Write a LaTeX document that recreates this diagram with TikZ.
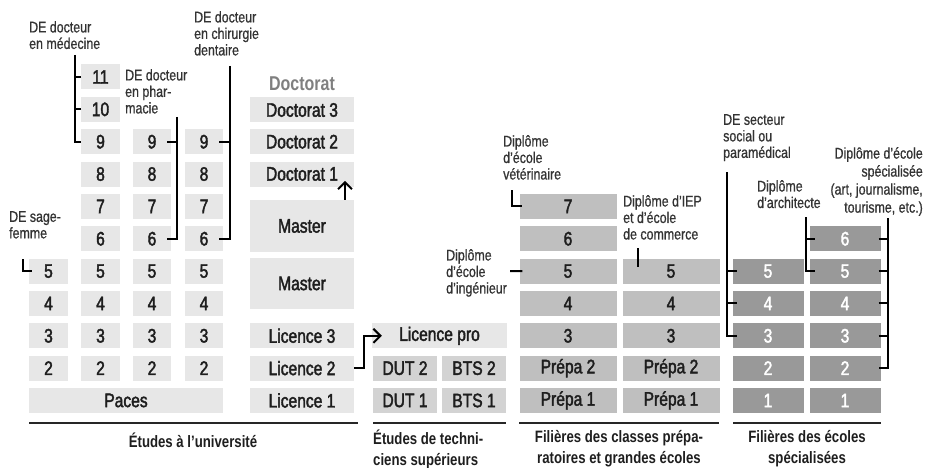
\documentclass[tikz,border=0pt]{standalone}
\usepackage{fontspec}
\setmainfont[FakeStretch=0.8]{Liberation Sans}
\newfontfamily\cellfont[FakeStretch=0.8,FakeBold=2]{Liberation Sans}
\newfontfamily\annfont[FakeStretch=0.8,FakeBold=0.8]{Liberation Sans}
\usetikzlibrary{arrows.meta,calc}
\definecolor{uni}{HTML}{E7E7E7}
\definecolor{tech}{HTML}{D3D3D3}
\definecolor{prepa}{HTML}{BFBFBF}
\definecolor{spec}{HTML}{999999}
\definecolor{boxtxt}{HTML}{1E1E1E}
\definecolor{anntxt}{HTML}{333333}
\definecolor{doctxt}{HTML}{7F7F7F}
\begin{document}
\begin{tikzpicture}[x=1pt,y=-1pt,
  cell/.style={inner sep=0pt, minimum height=25pt, text=boxtxt, font=\cellfont\fontsize{19.5}{21}\selectfont},
  ubox/.style={cell, fill=uni, minimum width=38.5pt},
  lbox/.style={cell, fill=uni, minimum width=104pt},
  tbox/.style={cell, fill=tech, minimum width=64pt},
  pbox/.style={cell, fill=prepa, minimum width=97pt},
  sbox/.style={cell, fill=spec, text=white, minimum width=71pt},
  ann/.style={inner sep=0pt, font=\annfont\fontsize{15.5}{16.5}\selectfont, text=anntxt, align=left},
  gtitle/.style={inner sep=0pt, font=\bfseries\fontsize{16.5}{21}\selectfont, text=boxtxt},
  brk/.style={line width=2pt, black},
  rule/.style={line width=2.6pt, black!85}]
\useasboundingbox (0,0) rectangle (926,468);
% --- university, numbered columns
\foreach \r in {2,...,5} \node[ubox] (a\r) at (48.5,{400.5-32.35*(\r-1)}) {\r};
\foreach \r in {2,...,11} \node[ubox] (b\r) at (100.5,{400.5-32.35*(\r-1)}) {\r};
\foreach \r in {2,...,9} \node[ubox] (c\r) at (152,{400.5-32.35*(\r-1)}) {\r};
\foreach \r in {2,...,9} \node[ubox] (d\r) at (204,{400.5-32.35*(\r-1)}) {\r};
\node[ubox, minimum width=194pt] (paces) at (126,400.5) {Paces};
% --- LMD column
\node[lbox] (L1) at (302,400.5) {Licence 1};
\node[lbox] (L2) at (302,368.15) {Licence 2};
\node[lbox] (L3) at (302,335.8) {Licence 3};
\node[lbox, minimum height=51pt] (M1) at (302,283.5) {Master};
\node[lbox, minimum height=52pt] (M2) at (302,226) {Master};
\node[lbox] (D1) at (302,174) {Doctorat 1};
\node[lbox] (D2) at (302,141.7) {Doctorat 2};
\node[lbox] (D3) at (302,110) {Doctorat 3};
\node[inner sep=0pt, font=\bfseries\fontsize{20}{22}\selectfont, text=doctxt] (Dh) at (302,84) {Doctorat};
% --- technicians
\node[cell, fill=uni, minimum width=135pt] (LP) at (439.5,335.8) {Licence pro};
\node[tbox] (DUT2) at (405,368.15) {DUT 2};
\node[tbox] (DUT1) at (405,400.5) {DUT 1};
\node[tbox] (BTS2) at (474,368.15) {BTS 2};
\node[tbox] (BTS1) at (474,400.5) {BTS 1};
% --- prepa
\node[pbox] (p1r1) at (568,400.5) {Prépa 1};
\node[pbox] (p1r2) at (568,368.15) {Prépa 2};
\node[pbox] (p2r1) at (671,400.5) {Prépa 1};
\node[pbox] (p2r2) at (671,368.15) {Prépa 2};
\foreach \r in {3,...,7} \node[pbox] (p1r\r) at (568,{400.5-32.35*(\r-1)}) {\r};
\foreach \r in {3,...,5} \node[pbox] (p2r\r) at (671,{400.5-32.35*(\r-1)}) {\r};
% --- specialised schools
\foreach \r in {1,...,5} \node[sbox] (s1r\r) at (768,{400.5-32.35*(\r-1)}) {\r};
\foreach \r in {1,...,6} \node[sbox] (s2r\r) at (845,{400.5-32.35*(\r-1)}) {\r};
% --- group rules and titles
\draw[rule] (29,423) -- (358,423);
\draw[rule] (373,423) -- (506,423);
\draw[rule] (519,423) -- (719,423);
\draw[rule] (733,423) -- (881,423);
\node[gtitle] (t1) at (193,440) {Études à l’université};
\node[gtitle, align=left, anchor=west] (t2) at (373,449) {Études de techni-\\ciens supérieurs};
\node[gtitle, align=center] (t3) at (619,449) {Filières des classes prépa-\\ratoires et grandes écoles};
\node[gtitle, align=center] (t4) at (807,449) {Filières des écoles\\spécialisées};
% --- annotations
\node[ann, anchor=north west] (med) at (29,21) {DE docteur\\en médecine};
\coordinate (medtop) at (75,55);
\draw[brk] (medtop) |- (b9.west);
\draw[brk] (b11.west) -- (b11.west -| medtop);
\draw[brk] (b10.west) -- (b10.west -| medtop);

\node[ann, anchor=north west] (pha) at (125,69) {DE docteur\\en phar-\\macie};
\coordinate (phatop) at (177,117);
\draw[brk] (phatop) |- ([xshift=-4pt]c6.east);
\draw[brk] ([xshift=-4pt]c9.east) -- (c9.east -| phatop);

\node[ann, anchor=north west] (chi) at (194,11) {DE docteur\\en chirurgie\\dentaire};
\coordinate (chitop) at (230,66);
\draw[brk] (chitop) |- ([xshift=-4pt]d6.east);
\draw[brk] ([xshift=-4pt]d9.east) -- (d9.east -| chitop);

\node[ann, anchor=north west] (sag) at (9,211) {DE sage-\\femme};
\coordinate (sagtop) at (23,259);
\draw[brk] (sagtop) |- ([xshift=3pt]a5.west);

\node[ann, anchor=north west] (vet) at (503,135) {Diplôme\\d’école\\vétérinaire};
\coordinate (vettop) at (512,190);
\draw[brk] (vettop) |- ([xshift=3pt]p1r7.west);

\node[ann, anchor=north west] (ing) at (446,249) {Diplôme\\d’école\\d’ingénieur};
\coordinate (ingend) at (510,271.1);
\draw[brk] (ingend) -- ([xshift=3pt]p1r5.west);

\node[ann, anchor=north west] (iep) at (623,195) {Diplôme d’IEP\\et d’école\\de commerce};
\coordinate (ieptop) at (638,248);
\draw[brk] (ieptop) -- ($(ieptop |- p2r5.north)+(0,9)$);

\node[ann, anchor=north west] (soc) at (723,114) {DE secteur\\social ou\\paramédical};
\coordinate (soctop) at (727,172);
\draw[brk] (soctop) |- ([xshift=5pt]s1r3.west);
\draw[brk] (s1r5.west -| soctop) -- ([xshift=5pt]s1r5.west);
\draw[brk] (s1r4.west -| soctop) -- ([xshift=5pt]s1r4.west);

\node[ann, anchor=north west] (arc) at (757,180) {Diplôme\\d’architecte};
\coordinate (arctop) at (806,217);
\draw[brk] (arctop) |- ([xshift=6pt]s2r5.west);
\draw[brk] (s2r6.west -| arctop) -- ([xshift=6pt]s2r6.west);

\node[ann, align=right, anchor=north east, font=\annfont\fontsize{15.5}{18}\selectfont] (eco) at (923,147) {Diplôme d’école\\spécialisée\\(art, journalisme,\\tourisme, etc.)};
\coordinate (ecotop) at (888,218);
\draw[brk] (ecotop) |- ([xshift=-2pt]s2r2.east);
\foreach \r in {3,...,6} \draw[brk] ([xshift=-2pt]s2r\r.east) -- (s2r\r.east -| ecotop);

% --- arrows
\draw[brk, -{Straight Barb[length=7pt,width=14pt]}] (L2.east) -- ++(10,0) |- ([xshift=10pt]LP.west);
\draw[brk, -{Straight Barb[length=7pt,width=14pt]}] ([xshift=43pt]M2.north) -- ++(0,-19);
\end{tikzpicture}
\end{document}
